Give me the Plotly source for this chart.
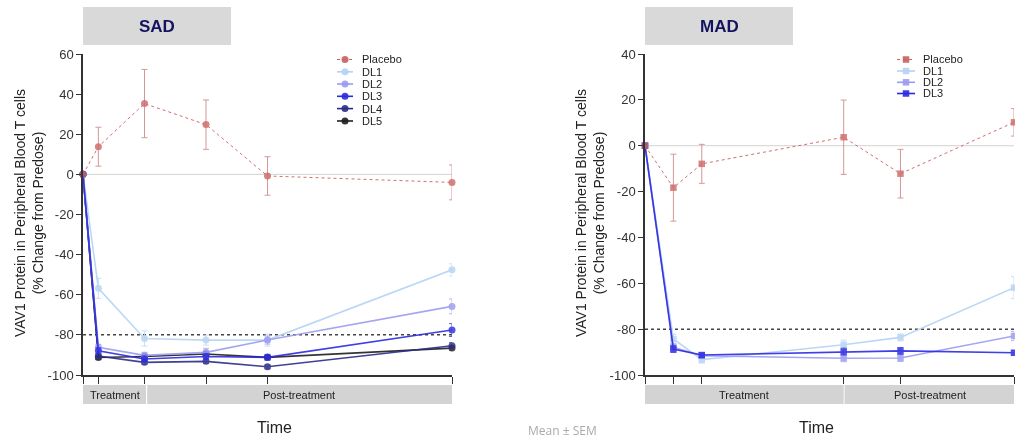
import plotly.graph_objects as go

W, H = 1015, 441

# ---------------- data ----------------
series_names_sad = ["Placebo", "DL1", "DL2", "DL3", "DL4", "DL5"]
series_names_mad = ["Placebo", "DL1", "DL2", "DL3"]

sad_days = [0, 2, 8, 16, 24, 48]
sad_placebo = [0, 13.8, 35.3, 24.8, -0.8, -4.0]
sad_placebo_err = [0, 9.7, 17.0, 12.3, 9.6, 8.7]
sad_dl1 = [0, -56.8, -81.8, -82.6, -82.6, -47.6]
sad_dl1_err = [0, 5.0, 3.8, 2.5, 3.0, 3.0]
sad_dl2 = [0, -86.2, -90.2, -88.7, -82.6, -65.8]
sad_dl2_err = [0, 1.5, 1.5, 2.0, 2.0, 3.7]
sad_dl3 = [0, -87.9, -92.0, -90.8, -91.2, -77.6]
sad_dl3_err = [0, 1.5, 1.5, 1.5, 1.5, 3.2]
sad_dl4 = [0, -90.5, -93.7, -93.2, -95.9, -85.4]
sad_dl4_err = [0, 1.0, 1.0, 1.0, 1.0, 1.5]
sad_dl5 = [0, -91.3, -90.8, -89.5, -91.2, -86.6]
sad_dl5_err = [0, 1.0, 1.0, 1.0, 1.0, 1.0]

mad_days = [0, 4, 8, 28, 36, 52]
mad_placebo = [0, -18.3, -7.9, 3.7, -12.2, 10.2]
mad_placebo_err = [0, 14.6, 8.5, 16.2, 10.6, 6.0]
mad_dl1 = [0, -84.3, -93.3, -86.8, -83.6, -61.9]
mad_dl1_err = [0, 2.0, 1.5, 2.0, 1.5, 4.8]
mad_dl2 = [0, -87.9, -91.6, -92.7, -92.6, -83.0]
mad_dl2_err = [0, 1.5, 1.0, 1.5, 1.5, 2.0]
mad_dl3 = [0, -88.7, -91.3, -89.8, -89.5, -90.3]
mad_dl3_err = [0, 1.5, 1.0, 1.5, 1.5, 1.0]

sad_yticks = [-100, -80, -60, -40, -20, 0, 20, 40, 60]
sad_yticklabels = ["-100", "-80", "-60", "-40", "-20", "0", "20", "40", "60"]
mad_yticks = [-100, -80, -60, -40, -20, 0, 20, 40]
mad_yticklabels = ["-100", "-80", "-60", "-40", "-20", "0", "20", "40"]
sad_treatment_end = 8.2
mad_treatment_end = 28
reference_line = -80

# ---------------- styles ----------------
FONT = "Arial, Liberation Sans, sans-serif"
colors = {
    "Placebo": "#c95f5f",
    "DL1": "#b5d3f3",
    "DL2": "#9b9bef",
    "DL3": "#2a2ae2",
    "DL4": "#2b2b88",
    "DL5": "#1e1e1e",
}
err_colors = {
    "Placebo": "#d28c8c",
    "DL1": "#c5dcf5",
    "DL2": "#adadf2",
    "DL3": "#4a4ae6",
    "DL4": "#4a4a98",
    "DL5": "#444444",
}

def px_x(x):
    return x / W

def px_y(y):
    return 1 - y / H

fig = go.Figure()

def add_series(x, y, err, name, xa, ya, symbol, msize):
    is_pl = name == "Placebo"
    fig.add_trace(go.Scatter(
        x=x, y=y, mode="lines+markers", name=name, showlegend=False,
        xaxis=xa, yaxis=ya, cliponaxis=False,
        line=dict(color=colors[name], width=1 if is_pl else 1.6,
                  dash="dot" if is_pl else "solid"),
        marker=dict(color=colors[name], size=msize, symbol=symbol,
                    opacity=0.85 if is_pl else 0.9),
        opacity=0.9,
        error_y=dict(type="data", array=err, visible=True,
                     color=err_colors[name], thickness=1, width=3),
    ))

sad_values = {"DL1": (sad_dl1, sad_dl1_err), "DL2": (sad_dl2, sad_dl2_err),
              "DL3": (sad_dl3, sad_dl3_err), "DL4": (sad_dl4, sad_dl4_err),
              "DL5": (sad_dl5, sad_dl5_err)}
for nm in ["DL5", "DL4", "DL1", "DL2", "DL3"]:
    add_series(sad_days, sad_values[nm][0], sad_values[nm][1], nm, "x", "y", "circle", 7)
add_series(sad_days, sad_placebo, sad_placebo_err, "Placebo", "x", "y", "circle", 7)

mad_values = {"DL1": (mad_dl1, mad_dl1_err), "DL2": (mad_dl2, mad_dl2_err),
              "DL3": (mad_dl3, mad_dl3_err)}
for nm in ["DL1", "DL2", "DL3"]:
    add_series(mad_days, mad_values[nm][0], mad_values[nm][1], nm, "x2", "y2", "square", 6.5)
add_series(mad_days, mad_placebo, mad_placebo_err, "Placebo", "x2", "y2", "square", 6.5)

ydom = [px_y(375), px_y(54)]
axis_common = dict(showline=True, linecolor="#333333", linewidth=1.5, showgrid=False,
                   zeroline=False, ticks="outside", tickcolor="#333333", tickwidth=1.2,
                   automargin=False)
fig.update_layout(
    xaxis=dict(domain=[px_x(83), px_x(452)], range=[0, 48], anchor="y",
               tickvals=sad_days, showticklabels=False, ticklen=7, **axis_common),
    yaxis=dict(domain=ydom, range=[-100, 60], anchor="x", tickvals=sad_yticks,
               ticktext=sad_yticklabels,
               ticklen=5, tickfont=dict(size=13, color="#333333", family=FONT),
               **axis_common),
    xaxis2=dict(domain=[px_x(645), px_x(1014)], range=[0, 52], anchor="y2",
                tickvals=mad_days, showticklabels=False, ticklen=7, **axis_common),
    yaxis2=dict(domain=ydom, range=[-100, 40], anchor="x2", tickvals=mad_yticks,
                ticktext=mad_yticklabels,
                ticklen=5, tickfont=dict(size=13, color="#333333", family=FONT),
                **axis_common),
    width=W, height=H, margin=dict(l=0, r=0, t=0, b=0, pad=0, autoexpand=False),
    paper_bgcolor="white", plot_bgcolor="white", showlegend=False,
    font=dict(family=FONT, color="#222222"),
)

shapes = []
annotations = []

def note(xref, yref, x, y, text, size, color="#222222", family=FONT, xanchor="center", **kw):
    annotations.append(dict(xref=xref, yref=yref, x=x, y=y, text=text, showarrow=False,
                            xanchor=xanchor, yanchor="middle",
                            font=dict(size=size, color=color, family=family), **kw))

# reference lines
for xa, ya, xmax in [("x", "y", 48), ("x2", "y2", 52)]:
    shapes.append(dict(type="line", xref=xa, yref=ya, x0=0, x1=xmax, y0=0, y1=0,
                       line=dict(color="#d4d4d4", width=1), layer="below"))
    shapes.append(dict(type="line", xref=xa, yref=ya, x0=0, x1=xmax,
                       y0=reference_line, y1=reference_line,
                       line=dict(color="#444444", width=1.5, dash="dot"), layer="below"))

# treatment bands
band_y0, band_y1 = px_y(404), px_y(385)
for xa, tend, xmax, gap in [("x", sad_treatment_end, 48, 0.15), ("x2", mad_treatment_end, 52.2, 0.12)]:
    shapes.append(dict(type="rect", xref=xa, yref="paper", x0=-0.1, x1=tend,
                       y0=band_y0, y1=band_y1, fillcolor="#d3d3d3", line=dict(width=0)))
    shapes.append(dict(type="rect", xref=xa, yref="paper", x0=tend + gap, x1=xmax,
                       y0=band_y0, y1=band_y1, fillcolor="#d3d3d3", line=dict(width=0)))
    note(xa, "paper", tend / 2, (band_y0 + band_y1) / 2, "Treatment", 11)
    note(xa, "paper", (tend + xmax) / 2, (band_y0 + band_y1) / 2, "Post-treatment", 11)

# panel title boxes
for x0, x1, title in [(83, 231, "SAD"), (645, 793, "MAD")]:
    shapes.append(dict(type="rect", xref="paper", yref="paper", x0=px_x(x0), x1=px_x(x1),
                       y0=px_y(45), y1=px_y(7), fillcolor="#d9d9d9", line=dict(width=0)))
    note("paper", "paper", px_x((x0 + x1) / 2), px_y(26), "<b>%s</b>" % title, 17, color="#14145e")

# axis titles
ytitle = "VAV1 Protein in Peripheral Blood T cells<br>(% Change from Predose)"
for xc in [29, 590]:
    note("paper", "paper", px_x(xc), px_y(213), ytitle, 14, textangle=-90)
for xc in [274, 816]:
    note("paper", "paper", px_x(xc), px_y(427), "Time", 16)
note("paper", "paper", px_x(562), px_y(430), "Mean ± SEM", 12, color="#aaaaaa",
     family="Open Sans, sans-serif")

# manual compact legends
def legend(names, x_line0, x_line1, x_text, y_rows, shape_type, msize):
    for nm, yr in zip(names, y_rows):
        is_pl = nm == "Placebo"
        shapes.append(dict(type="line", xref="paper", yref="paper",
                           x0=px_x(x_line0), x1=px_x(x_line1), y0=px_y(yr), y1=px_y(yr),
                           line=dict(color=colors[nm], width=1 if is_pl else 1.6,
                                     dash="dot" if is_pl else "solid")))
        xm = (x_line0 + x_line1) / 2
        shapes.append(dict(type=shape_type, xref="paper", yref="paper",
                           x0=px_x(xm - msize / 2), x1=px_x(xm + msize / 2),
                           y0=px_y(yr + msize / 2), y1=px_y(yr - msize / 2),
                           fillcolor=colors[nm], line=dict(width=0), opacity=0.9))
        note("paper", "paper", px_x(x_text), px_y(yr), nm, 11, xanchor="left")

legend(series_names_sad, 337, 353, 360, [59.5, 71.8, 84, 96.3, 108.6, 121], "circle", 7)
legend(series_names_mad, 897, 915, 921, [59.5, 71, 82.3, 93.5], "rect", 6.5)

fig.update_layout(shapes=shapes, annotations=annotations)
fig.write_html("out.html")
